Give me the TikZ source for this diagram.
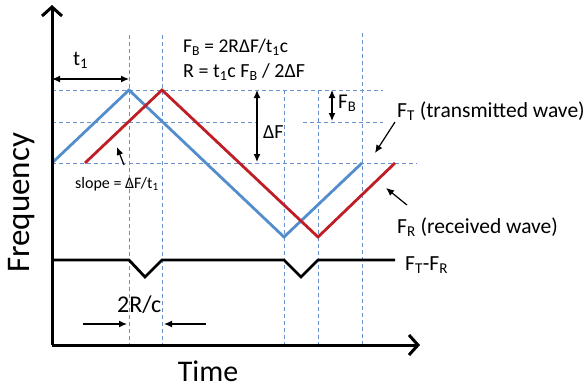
\documentclass[tikz,border=0pt]{standalone}
\usepackage{fontspec}
\setmainfont{Carlito}
\usetikzlibrary{arrows.meta}
\definecolor{txblue}{RGB}{84,141,204}
\definecolor{rxred}{RGB}{192,30,38}
\definecolor{gridblue}{RGB}{105,145,205}
\newcommand{\fsz}[1]{\fontsize{#1}{#1}\selectfont}

\begin{document}
\begin{tikzpicture}[x=1pt,y=-1pt,>=Latex,
axis/.style={line width=3pt,-{Straight Barb[length=9pt,width=20pt,line width=3pt]}},
guide/.style={gridblue,line width=0.9pt,dash pattern=on 4pt off 3pt},
tx/.style={txblue,line width=2.8pt},
rx/.style={rxred,line width=2.8pt},
beat/.style={black,line width=2.8pt},
dim/.style={<->,line width=1.2pt,>={Latex[length=8pt,width=7pt]}},
pointer/.style={->,line width=1.2pt,>={Latex[length=8pt,width=7pt]}},
lbl/.style={anchor=base west,inner sep=0pt,font=\fsz{21.5}}]
\useasboundingbox (0,0) rectangle (587,389);
% key points
\coordinate (o) at (52,345);
\coordinate (ytop) at (52,5);
\coordinate (xend) at (420,345);
\coordinate (b0) at (52,163); \coordinate (b1) at (129,90);
\coordinate (b2) at (284,237); \coordinate (b3) at (362,163);
\coordinate (r0) at (85,163); \coordinate (r1) at (162,90);
\coordinate (r2) at (318,237); \coordinate (r3) at (395,163);
% guide lines
\draw[guide] (52,90) -- (383,90);
\draw[guide] (52,122) -- (257,122);
\draw[guide] (303,122) -- (383,122);
\draw[guide] (52,163) -- (417,163);
\draw[guide] (129,35) -- (129,345);
\draw[guide] (162,35) -- (162,345);
\draw[guide] (284,90) -- (284,345);
\draw[guide] (318,90) -- (318,345);
\draw[guide] (362,33) -- (362,345);
% waves
\draw[tx] (b0) -- (b1) -- (b2) -- (b3);
\draw[rx] (r0) -- (r1) -- (r2) -- (r3);
\draw[beat] (52,260) -- (129,260) -- (145,277) -- (162,260) -- (284,260)
  -- (301,277) -- (318,260) -- (395,260);
% axes
\draw[axis] (o) -- (ytop);
\draw[axis] (o) -- (xend);
% dimensions
\coordinate (t1a) at (52,79); \coordinate (t1b) at (129,79);
\draw[dim] (t1a) -- (t1b);
\coordinate (dfa) at (257,90); \coordinate (dfb) at (257,162);
\draw[dim] (dfa) -- (dfb);
\coordinate (fba) at (332,90); \coordinate (fbb) at (332,121);
\draw[dim] (fba) -- (fbb);
\coordinate (dla) at (83,324); \coordinate (dlb) at (127,324);
\coordinate (dra) at (206,324); \coordinate (drb) at (164,324);
\draw[pointer] (dla) -- (dlb);
\draw[pointer] (dra) -- (drb);
\coordinate (sla) at (124,165); \coordinate (slb) at (117,147);
\draw[pointer] (sla) -- (slb);
\coordinate (fta) at (395,122); \coordinate (ftb) at (375,153);
\draw[pointer] (fta) -- (ftb);
\coordinate (fra) at (407,205); \coordinate (frb) at (386,188);
\draw[pointer] (fra) -- (frb);
% labels
\node[lbl,font=\fsz{19.5}] (eqfb) at (183,52) {F\textsubscript{B} = 2RΔF/t\textsubscript{1}c};
\node[lbl,font=\fsz{20}] (eqr) at (183,77) {R = t\textsubscript{1}c F\textsubscript{B} / 2ΔF};
\node[lbl,font=\fsz{21}] (t1) at (73,65) {t\textsubscript{1}};
\node[lbl,font=\fsz{20}] (df) at (263,138) {ΔF};
\node[lbl,font=\fsz{21}] (fb) at (338,108) {F\textsubscript{B}};
\node[lbl] (ft) at (397,117) {F\textsubscript{T} (transmitted wave)};
\node[lbl] (fr) at (397,233) {F\textsubscript{R} (received wave)};
\node[lbl] (ftfr) at (405,270) {F\textsubscript{T}-F\textsubscript{R}};
\node[lbl,font=\fsz{16}] (slope) at (75,188) {slope = ΔF/t\textsubscript{1}};
\node[lbl,font=\fsz{24}] (rc) at (117,312) {2R/c};
\node[rotate=90,inner sep=0pt,font=\fsz{33}] (freq) at (22,203) {Frequency};
\node[anchor=base,inner sep=0pt,font=\fsz{30}] (time) at (208,381) {Time};
\end{tikzpicture}
\end{document}
